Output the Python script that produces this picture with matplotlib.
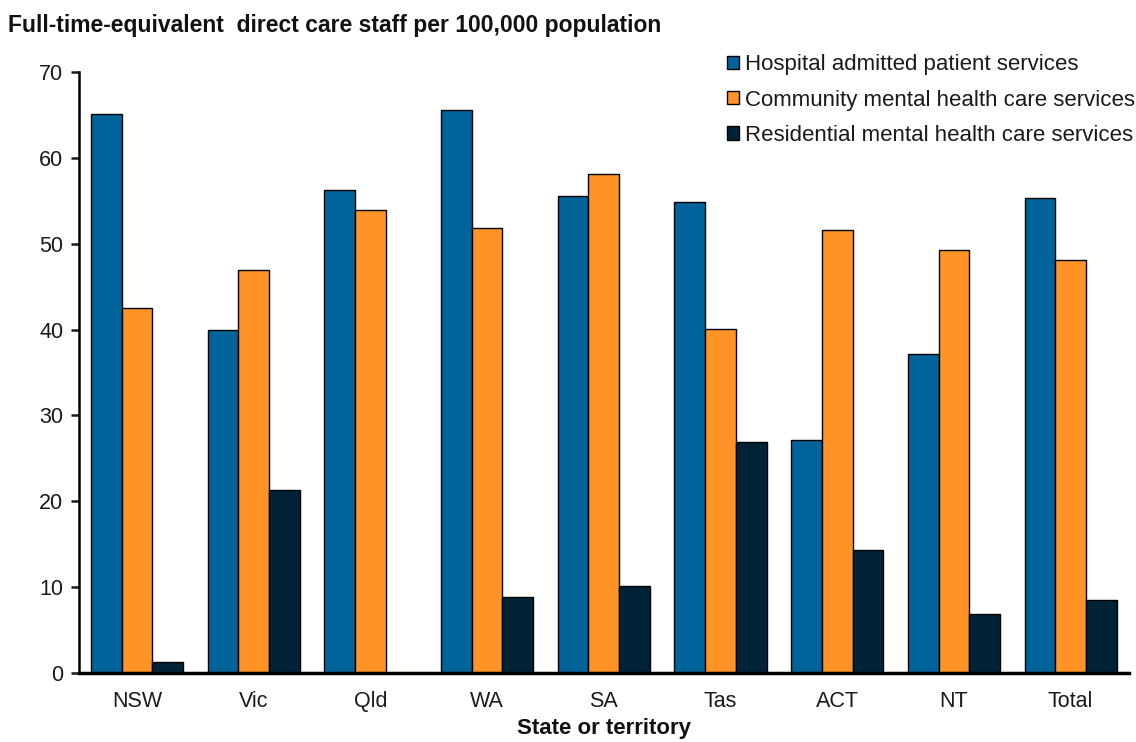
import matplotlib.pyplot as plt
import numpy as np

# categories and values
states = ["NSW", "Vic", "Qld", "WA", "SA", "Tas", "ACT", "NT", "Total"]
hospital = [65.1, 39.9, 56.3, 65.6, 55.6, 54.9, 27.1, 37.2, 55.3]
community = [42.5, 46.9, 53.9, 51.8, 58.1, 40.1, 51.6, 49.3, 48.1]
residential = [1.3, 21.3, 0.0, 8.9, 10.1, 26.9, 14.3, 6.9, 8.5]

series_names = ["Hospital admitted patient services",
                "Community mental health care services",
                "Residential mental health care services"]
colors = ["#00649A", "#FF9326", "#002338"]

plt.rcParams['font.family'] = ['Liberation Sans', 'DejaVu Sans']

fig = plt.figure(figsize=(11.36, 7.42), dpi=100)
ax = fig.add_axes([0.0692, 0.093, 0.9246, 0.810])

x = np.arange(len(states))
w = 0.263
for i, (vals, name, c) in enumerate(zip([hospital, community, residential], series_names, colors)):
    ax.bar(x + (i - 1) * w, vals, width=w, color=c, edgecolor='black',
           linewidth=1.0, label=name, zorder=2)

ax.set_xlim(-0.5, len(states) - 0.5)
ax.set_ylim(0, 70)
ax.set_yticks(range(0, 71, 10))
ax.set_xticks(x)
ax.set_xticklabels(states)

for s in ['top', 'right']:
    ax.spines[s].set_visible(False)
ax.spines['left'].set_linewidth(1.8)
ax.spines['bottom'].set_linewidth(2.5)
ax.tick_params(axis='y', direction='out', length=6, width=1.8, labelsize=15.5,
               colors='#1a1a1a', pad=5)
ax.tick_params(axis='x', length=0, labelsize=15.5, colors='#1a1a1a', pad=13)

fig.text(0.007, 0.966, "Full-time-equivalent  direct care staff per 100,000 population",
         fontsize=16.5, fontweight='bold', va='center', ha='left', color='#111111')
fig.text(0.532, 0.004, "State or territory", fontsize=16, fontweight='bold',
         ha='center', va='bottom', color='#111111')

leg = ax.legend(loc='upper right', bbox_to_anchor=(0.999, 0.927),
                bbox_transform=fig.transFigure, frameon=False, fontsize=16,
                handlelength=0.55, handleheight=0.55, handletextpad=0.25,
                labelspacing=0.65, borderaxespad=0, borderpad=0)
for t in leg.get_texts():
    t.set_color('#1a1a1a')

fig.savefig("out.png", dpi=100)
